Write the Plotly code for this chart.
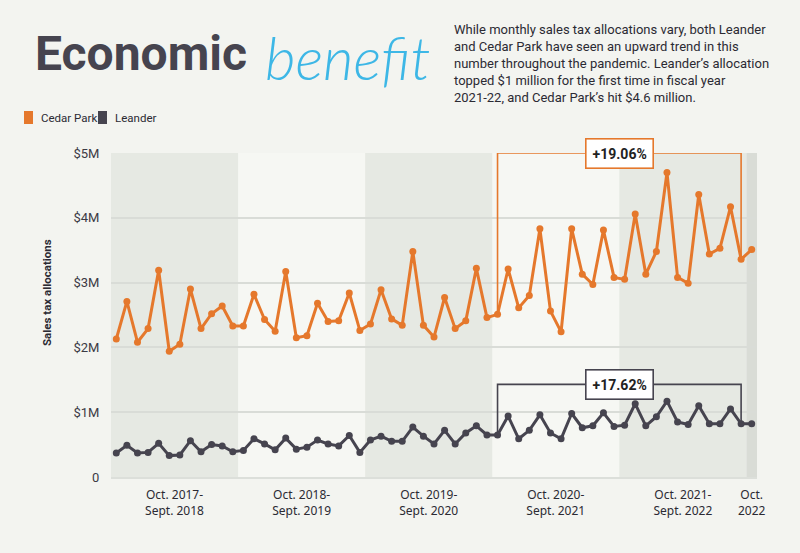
import plotly.graph_objects as go

# monthly sales tax allocations, Oct 2017 - Oct 2022 (millions of dollars)
months = list(range(61))
cedar_park = [
    2.13, 2.71, 2.08, 2.29, 3.19, 1.94, 2.05, 2.90, 2.29, 2.52, 2.64, 2.33,
    2.33, 2.82, 2.43, 2.25, 3.17, 2.15, 2.18, 2.68, 2.40, 2.41, 2.84, 2.26,
    2.36, 2.89, 2.44, 2.34, 3.48, 2.34, 2.16, 2.77, 2.29, 2.41, 3.22, 2.46,
    2.51, 3.21, 2.61, 2.80, 3.83, 2.56, 2.24, 3.83, 3.13, 2.97, 3.81, 3.08,
    3.05, 4.06, 3.13, 3.48, 4.70, 3.08, 2.99, 4.36, 3.44, 3.53, 4.17, 3.36,
    3.51,
]
leander = [
    0.37, 0.49, 0.37, 0.38, 0.52, 0.33, 0.34, 0.56, 0.39, 0.50, 0.48, 0.39,
    0.41, 0.59, 0.51, 0.42, 0.60, 0.43, 0.46, 0.57, 0.51, 0.48, 0.64, 0.38,
    0.57, 0.63, 0.55, 0.55, 0.77, 0.63, 0.51, 0.72, 0.51, 0.68, 0.79, 0.65,
    0.65, 0.94, 0.59, 0.72, 0.96, 0.68, 0.59, 0.98, 0.76, 0.79, 0.99, 0.78,
    0.80, 1.13, 0.79, 0.93, 1.17, 0.85, 0.81, 1.10, 0.82, 0.82, 1.05, 0.82,
    0.82,
]
cedar_park = [v * 1e6 for v in cedar_park]
leander = [v * 1e6 for v in leander]

# fiscal years (Oct-Sept) shown as bands, label at band centre
fy_starts = [0, 12, 24, 36, 48]
fy_labels = ["Oct. 2017-<br>Sept. 2018", "Oct. 2018-<br>Sept. 2019", "Oct. 2019-<br>Sept. 2020",
             "Oct. 2020-<br>Sept. 2021", "Oct. 2021-<br>Sept. 2022"]
last_label = "Oct.<br>2022"

y_ticks = [0, 1e6, 2e6, 3e6, 4e6, 5e6]
y_ticktext = ["0", "$1M", "$2M", "$3M", "$4M", "$5M"]

# change Oct 2020 -> Sept 2022
bracket_start, bracket_end = 36, 59
cedar_change = "+19.06%"
leander_change = "+17.62%"

ORANGE = "#e5782c"
DARK = "#46444f"
TEXT = "#2b2a33"

# plot area in pixels
L, R, T, B = 111, 757, 153, 477


def px(x):
    return (x - L) / (R - L)


def py(y):
    return (B - y) / (B - T)


fig = go.Figure()

# brackets
cedar_top = 5.0e6
leander_top = 1.43e6
fig.add_trace(go.Scatter(
    x=[bracket_start, bracket_start, bracket_end, bracket_end],
    y=[cedar_park[bracket_start], cedar_top, cedar_top, cedar_park[bracket_end]],
    mode="lines", line=dict(color=ORANGE, width=1.6), hoverinfo="skip", cliponaxis=False,
))
fig.add_trace(go.Scatter(
    x=[bracket_start, bracket_start, bracket_end, bracket_end],
    y=[leander[bracket_start], leander_top, leander_top, leander[bracket_end]],
    mode="lines", line=dict(color=DARK, width=1.6), hoverinfo="skip", cliponaxis=False,
))

fig.add_trace(go.Scatter(
    x=months, y=cedar_park, name="Cedar Park", mode="lines+markers",
    line=dict(color=ORANGE, width=3), marker=dict(color=ORANGE, size=7),
    cliponaxis=False,
))
fig.add_trace(go.Scatter(
    x=months, y=leander, name="Leander", mode="lines+markers",
    line=dict(color=DARK, width=3), marker=dict(color=DARK, size=7),
    cliponaxis=False,
))

# shaded fiscal year bands
for i, s in enumerate(fy_starts):
    if i % 2 == 0:
        fig.add_shape(type="rect", xref="x", yref="y domain", x0=s - 0.5, x1=s + 11.5,
                      y0=0, y1=1, fillcolor="#e6e9e3", line_width=0, layer="below")
fig.add_shape(type="rect", xref="x", yref="y domain", x0=months[-1] - 0.5, x1=months[-1] + 0.5,
              y0=0, y1=1, fillcolor="#d9dcd6", line_width=0, layer="below")

# legend
fig.add_shape(type="rect", xref="paper", yref="paper", x0=px(24), x1=px(33), y0=py(124), y1=py(111),
              fillcolor=ORANGE, line_width=0)
fig.add_shape(type="rect", xref="paper", yref="paper", x0=px(98), x1=px(107), y0=py(124), y1=py(111),
              fillcolor=DARK, line_width=0)

annotations = [
    dict(text="<b>Economic</b>", x=px(33), y=py(54), xanchor="left", yanchor="middle",
         font=dict(family="Roboto", size=48, color=DARK)),
    dict(text="benefit", x=px(263), y=py(57), xanchor="left", yanchor="middle",
         font=dict(family="Lato", size=59, color="#3db7e6", style="italic", weight=300)),
    dict(text="While monthly sales tax allocations vary, both Leander<br>"
              "and Cedar Park have seen an upward trend in this<br>"
              "number throughout the pandemic. Leander’s allocation<br>"
              "topped $1 million for the first time in fiscal year<br>"
              "2021-22, and Cedar Park’s hit $4.6 million.",
         x=px(452), y=py(20), xanchor="left", yanchor="top", align="left",
         font=dict(family="Roboto", size=13, color=TEXT)),
    dict(text="Cedar Park", x=px(39), y=py(117.5), xanchor="left", yanchor="middle",
         font=dict(family="Roboto", size=11.5, color=TEXT)),
    dict(text="Leander", x=px(113), y=py(117.5), xanchor="left", yanchor="middle",
         font=dict(family="Roboto", size=11.5, color=TEXT)),
    dict(text="<b>Sales tax allocations</b>", x=px(47), y=py(293), textangle=-90,
         xanchor="center", yanchor="middle",
         font=dict(family="Roboto", size=11.5, color=TEXT)),
    dict(text="<b>" + cedar_change + "</b>", x=(bracket_start + bracket_end) / 2, y=cedar_top,
         xref="x", yref="y", bgcolor="white", bordercolor=ORANGE, borderwidth=1.6, borderpad=6,
         font=dict(family="Roboto", size=14, color="#222222")),
    dict(text="<b>" + leander_change + "</b>", x=(bracket_start + bracket_end) / 2, y=leander_top,
         xref="x", yref="y", bgcolor="white", bordercolor=DARK, borderwidth=1.6, borderpad=6,
         font=dict(family="Roboto", size=14, color="#222222")),
]
for a in annotations:
    a.setdefault("xref", "paper")
    a.setdefault("yref", "paper")
    a["showarrow"] = False

fig.update_layout(
    {
        "width": 800,
        "height": 553,
        "margin": {"l": L, "r": 800 - R, "t": T, "b": 553 - B},
        "paper_bgcolor": "#f3f4f0",
        "plot_bgcolor": "#f6f7f3",
        "showlegend": False,
        "annotations": annotations,
        "xaxis": {
            "range": [-0.5, 60.5],
            "tickvals": [s + 5.5 for s in fy_starts] + [months[-1]],
            "ticktext": fy_labels + [last_label],
            "ticks": "outside",
            "ticklen": 6,
            "tickcolor": "rgba(0,0,0,0)",
            "showgrid": False,
            "zeroline": False,
            "showline": True,
            "linecolor": "#dcdfda",
            "linewidth": 2,
            "tickfont": {"family": "Noto Sans", "size": 12, "color": TEXT},
        },
        "yaxis": {
            "range": [0, 5e6],
            "tickvals": y_ticks,
            "ticktext": y_ticktext,
            "ticks": "outside",
            "ticklen": 8,
            "tickcolor": "rgba(0,0,0,0)",
            "showgrid": True,
            "gridcolor": "#d9dcd7",
            "gridwidth": 2,
            "zeroline": False,
            "tickfont": {"family": "Roboto", "size": 13, "color": "#3b3a44"},
        },
    }
)

# page body has a default 8px margin; drop it so the figure fills the window
fig.write_html("out.html", config={"displayModeBar": False},
               post_script="document.body.style.margin='0';")
